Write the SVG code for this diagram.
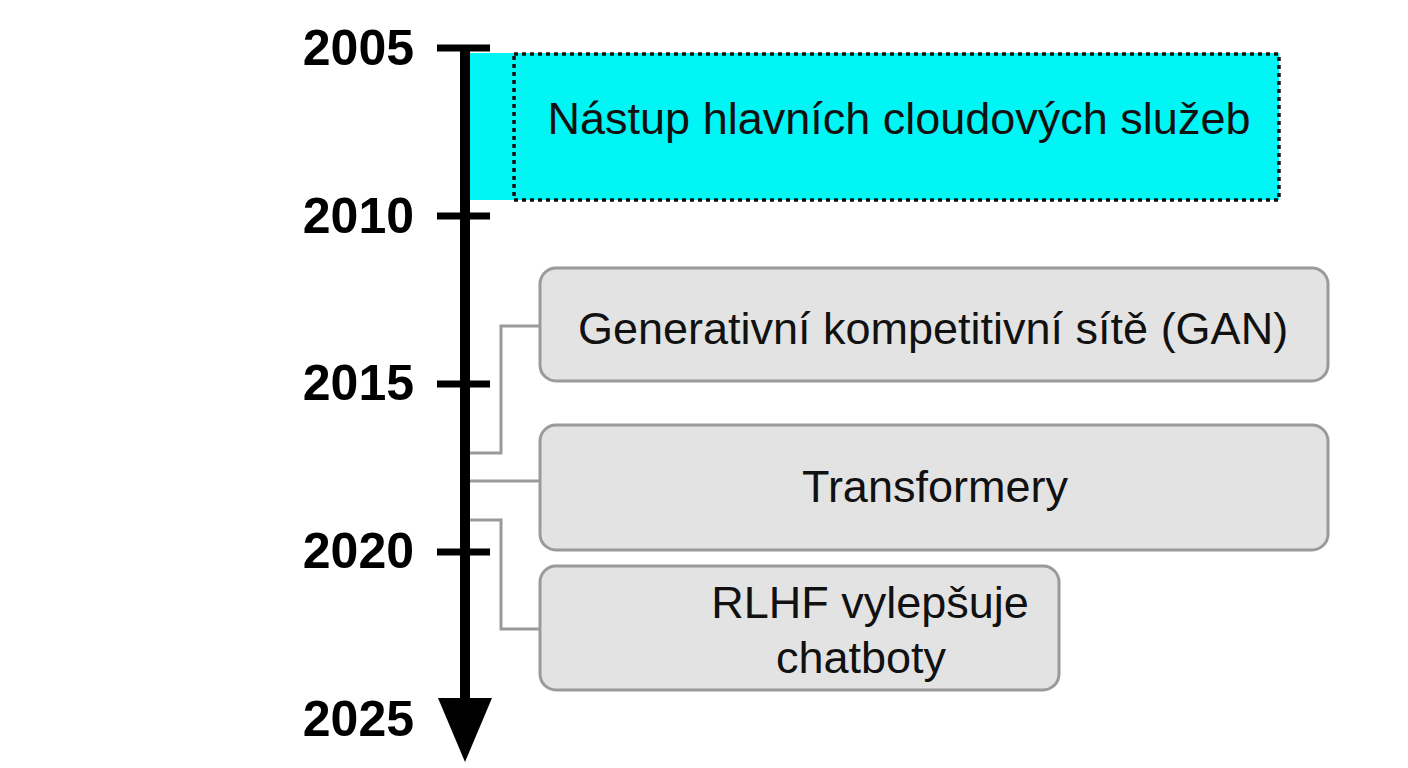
<svg xmlns="http://www.w3.org/2000/svg" width="1408" height="768" viewBox="0 0 1408 768">
<style>
.yr{font-family:"Liberation Sans",Arial,sans-serif;font-weight:bold;font-size:50px;fill:#000;text-anchor:end}
.lbl{font-family:"Liberation Sans",Arial,sans-serif;font-size:45px;fill:#111;text-anchor:middle}
.box{fill:#e3e3e3;stroke:#9a9a9a;stroke-width:3}
.conn{fill:none;stroke:#9a9a9a;stroke-width:3}
.tick{stroke:#000;stroke-width:7}
</style>
<rect width="1408" height="768" fill="#fff"/>
<g id="period">
<rect x="470" y="53" width="809" height="147" fill="#00f5f5"/>
<rect x="514" y="54" width="765" height="146" fill="none" stroke="#111" stroke-width="3.5" stroke-dasharray="4 4"/>
<text class="lbl" x="899" y="134">Nástup hlavních cloudových služeb</text>
</g>
<g id="connectors">
<polyline class="conn" points="470,453 501,453 501,326 540,326"/>
<line class="conn" x1="470" y1="481" x2="540" y2="481"/>
<polyline class="conn" points="470,520 501,520 501,629 540,629"/>
</g>
<g id="axis">
<line x1="465" y1="45" x2="465" y2="705" stroke="#000" stroke-width="10"/>
<polygon points="438,698 492,698 465,762" fill="#000"/>
<line class="tick" x1="437" y1="48" x2="490" y2="48"/>
<line class="tick" x1="437" y1="216" x2="490" y2="216"/>
<line class="tick" x1="437" y1="384" x2="490" y2="384"/>
<line class="tick" x1="437" y1="552" x2="490" y2="552"/>
<text class="yr" x="414" y="65">2005</text>
<text class="yr" x="414" y="233">2010</text>
<text class="yr" x="414" y="400">2015</text>
<text class="yr" x="414" y="568">2020</text>
<text class="yr" x="414" y="736">2025</text>
</g>
<g id="gan">
<rect class="box" x="540" y="268" width="788" height="113" rx="16"/>
<text class="lbl" x="933" y="344">Generativní kompetitivní sítě (GAN)</text>
</g>
<g id="transformery">
<rect class="box" x="540" y="425" width="788" height="125" rx="16"/>
<text class="lbl" x="935" y="502">Transformery</text>
</g>
<g id="rlhf">
<rect class="box" x="540" y="566" width="519" height="124" rx="16"/>
<text class="lbl" x="870" y="618">RLHF vylepšuje</text>
<text class="lbl" x="861" y="673">chatboty</text>
</g>
</svg>
